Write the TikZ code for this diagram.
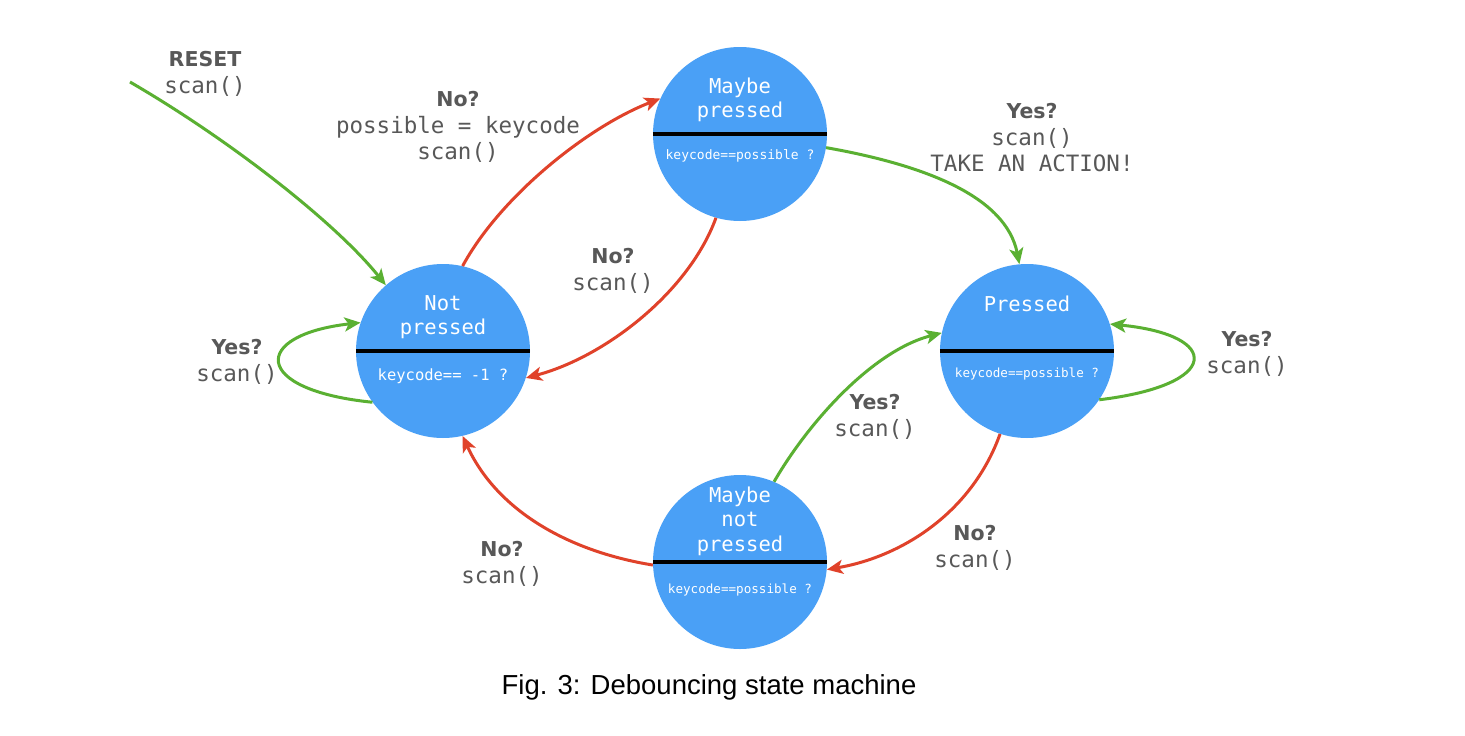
\documentclass[tikz,border=0pt]{standalone}
\usepackage{fontspec}
\setmainfont{Liberation Sans}
\newfontfamily\monof{DejaVu Sans Mono}
\newfontfamily\sansf{DejaVu Sans}
\usetikzlibrary{arrows.meta}
\definecolor{cblue}{RGB}{74,160,246}
\definecolor{cgreen}{RGB}{90,176,50}
\definecolor{cred}{RGB}{224,66,42}
\definecolor{cgray}{RGB}{88,88,88}
\newcommand{\bl}[1]{{\sansf\bfseries\fontsize{20.5}{26}\selectfont #1}}
\begin{document}
\begin{tikzpicture}[x=1pt,y=-1pt,
  state/.style={circle,fill=cblue,minimum size=174pt,inner sep=0pt,draw=none},
  title/.style={text=white,font=\monof\fontsize{20.5}{24.5}\selectfont,align=center,inner sep=0pt},
  cond/.style={text=white,inner sep=0pt},
  lab/.style={text=cgray,font=\monof\fontsize{22.5}{26.5}\selectfont,align=center,inner sep=0pt},
  bar/.style={line width=4.5pt,black},
  tip/.style={-{Stealth[length=16pt,width=14pt,inset=4pt]}},
  gr/.style={draw=cgreen,line width=3pt,tip},
  rd/.style={draw=cred,line width=3pt,tip}]
\useasboundingbox[fill=white] (0,0) rectangle (1465,736);

% states
\node[state] (np) at (443,351) {};
\node[state] (mp) at (740,134) {};
\node[state] (pr) at (1027,351) {};
\node[state] (mn) at (740,562) {};
\draw[bar] (np.180) -- (np.0);
\draw[bar] (mp.180) -- (mp.0);
\draw[bar] (pr.180) -- (pr.0);
\draw[bar] (mn.180) -- (mn.0);

\node[title] (npt) at (443,317) {Not\\pressed};
\node[title] (mpt) at (740,100) {Maybe\\pressed};
\node[title] (prt) at (1027,304) {Pressed};
\node[title] (mnt) at (740,521) {Maybe\\not\\pressed};
\node[cond,font=\monof\fontsize{15.5}{18}\selectfont] (npc) at (443,376) {keycode== -1 ?};
\node[cond,font=\monof\fontsize{13}{16}\selectfont] (mpc) at (740,156) {keycode==possible ?};
\node[cond,font=\monof\fontsize{12.6}{15}\selectfont] (prc) at (1027,374) {keycode==possible ?};
\node[cond,font=\monof\fontsize{12.6}{15}\selectfont] (mnc) at (740,590) {keycode==possible ?};

% labels
\node[lab] (l1) at (205,74) {\bl{RESET}\\scan()};
\node[lab] (l2) at (458,127) {\bl{No?}\\possible = keycode\\scan()};
\node[lab] (l3) at (1032,138) {\bl{Yes?}\\scan()\\TAKE AN ACTION!};
\node[lab] (l4) at (613,271) {\bl{No?}\\scan()};
\node[lab] (l5) at (1247,354) {\bl{Yes?}\\scan()};
\node[lab] (l6) at (237,362) {\bl{Yes?}\\scan()};
\node[lab] (l7) at (875,417) {\bl{Yes?}\\scan()};
\node[lab] (l8) at (502,564) {\bl{No?}\\scan()};
\node[lab] (l9) at (975,548) {\bl{No?}\\scan()};

% connectors
\coordinate (rs) at (130,82);
\draw[gr] (rs) .. controls (230,140) and (336,223) .. (np.131);
\draw[rd] (np.77) .. controls (500,197) and (587,127) .. (mp.156);
\draw[rd] (mp.-106) .. controls (689,292) and (605,357) .. (np.-18);
\draw[gr] (mp.-9) .. controls (924,165) and (1006,196) .. (pr.95);
\draw[gr] (pr.-34) .. controls (1222,385) and (1222,335) .. (pr.18);
\draw[gr] (np.-144) .. controls (251,390) and (251,335) .. (np.161);
\draw[rd] (pr.-108) .. controls (973,510) and (905,556) .. (mn.-5);
\draw[gr] (mn.67) .. controls (808,423) and (872,351) .. (pr.168);
\draw[rd] (mn.182) .. controls (566,551) and (496,509) .. (np.-77);

% caption
\node[font=\fontsize{27.5}{32}\selectfont,inner sep=0pt] (cap) at (709,687) {Fig. 3: Debouncing state machine};
\end{tikzpicture}
\end{document}
